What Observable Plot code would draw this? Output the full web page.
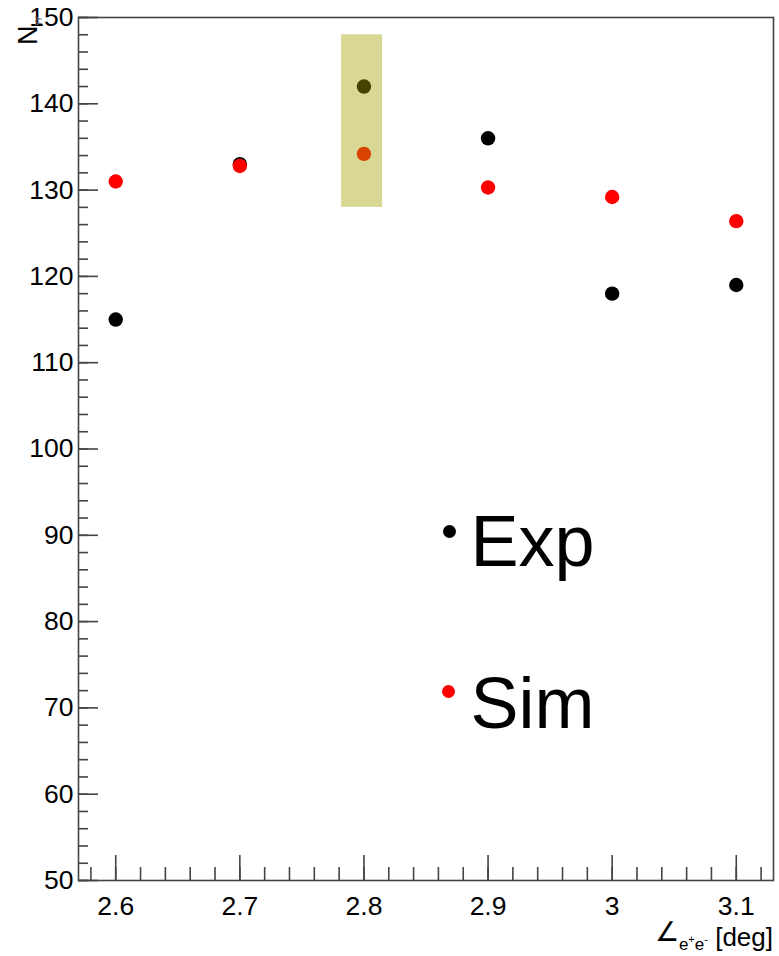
<!DOCTYPE html>
<html>
<head>
<meta charset="utf-8">
<script src="https://cdn.jsdelivr.net/npm/d3@7"></script>
<script src="https://cdn.jsdelivr.net/npm/@observablehq/plot@0.6"></script>
<style>
  html, body { margin: 0; padding: 0; background: #fff; }
  #chart svg { display: block; }
</style>
</head>
<body>
<div id="chart"></div>
<script>
// ---- data ----
const angles = [2.6, 2.7, 2.8, 2.9, 3.0, 3.1];
const expCounts = [115, 133, 142, 136, 118, 119];
const simCounts = [131, 132.8, 134.2, 130.3, 129.2, 126.4];

const xTicks = [2.6, 2.7, 2.8, 2.9, 3.0, 3.1];
const xTickLabels = ["2.6", "2.7", "2.8", "2.9", "3", "3.1"];
const xMinorTicks = d3.range(129, 157).map(i => i / 50);   // every 0.02
const yTicks = [50, 60, 70, 80, 90, 100, 110, 120, 130, 140, 150];
const yMinorTicks = d3.range(50, 151, 2);                   // every 2

const highlight = [{x1: 2.782, x2: 2.815, y1: 128, y2: 148}];

const legendLabels = ["Exp", "Sim"];
const legendColors = ["#000000", "#ff0000"];

const expData = angles.map((a, i) => ({angle: a, n: expCounts[i]}));
const simData = angles.map((a, i) => ({angle: a, n: simCounts[i]}));

const FONT = "'Liberation Sans', Arial, Helvetica, sans-serif";
const LINE = "#444";

const chart = Plot.plot({
  width: 779,
  height: 956,
  marginLeft: 78,
  marginRight: 6,
  marginTop: 17,
  marginBottom: 76,
  x: {domain: [2.57, 3.13]},
  y: {domain: [50, 150]},
  style: {fontFamily: FONT, fontSize: "26px", color: "#000", background: "#fff"},
  marks: [
    // data points
    Plot.dot(expData, {x: "angle", y: "n", r: 7.2, fill: legendColors[0]}),
    Plot.dot(simData, {x: "angle", y: "n", r: 7.2, fill: legendColors[1]}),
    // highlighted box (drawn over the points, translucent)
    Plot.rect(highlight, {x1: "x1", x2: "x2", y1: "y1", y2: "y2", fill: "rgb(162,162,0)", fillOpacity: 0.42}),
    // frame
    Plot.frame({stroke: LINE, strokeWidth: 1.6}),
    // y axis: inward ticks
    Plot.axisY(yMinorTicks, {tickSize: -10, fill: "none", stroke: LINE, strokeWidth: 1.6, label: null}),
    Plot.axisY(yTicks, {tickSize: -20, fill: "none", stroke: LINE, strokeWidth: 1.6, label: null}),
    Plot.axisY(yTicks, {tickSize: 0, tickPadding: 5, fill: "#000", label: null, fontSize: 26.5}),
    // x axis: inward ticks
    Plot.axisX(xMinorTicks, {tickSize: -13, fill: "none", stroke: LINE, strokeWidth: 1.6, label: null}),
    Plot.axisX(xTicks, {tickSize: -25, fill: "none", stroke: LINE, strokeWidth: 1.6, label: null}),
    Plot.axisX(xTicks, {
      tickSize: 0, tickPadding: 16, fill: "#000", label: null, fontSize: 26.5,
      tickFormat: d => xTickLabels[xTicks.findIndex(t => Math.abs(t - d) < 1e-9)]
    }),
    // legend
    Plot.dot([legendLabels[0]], {frameAnchor: "top-left", dx: 371, dy: 514, r: 6.5, fill: legendColors[0]}),
    Plot.dot([legendLabels[1]], {frameAnchor: "top-left", dx: 370, dy: 674, r: 6.5, fill: legendColors[1]}),
    Plot.text([legendLabels[0]], {frameAnchor: "top-left", dx: 392, dy: 548, text: d => d, fontSize: 72, textAnchor: "start", lineAnchor: "bottom", fill: "#000"}),
    Plot.text([legendLabels[1]], {frameAnchor: "top-left", dx: 392, dy: 710, text: d => d, fontSize: 72, textAnchor: "start", lineAnchor: "bottom", fill: "#000"})
  ]
});

document.getElementById("chart").appendChild(chart);

// ---- axis titles (with sub/superscripts) ----
const svg = d3.select(chart);

// y title: N with small subscript, rotated
const yt = svg.append("text")
  .attr("transform", "translate(37,45) rotate(-90)")
  .attr("font-family", FONT)
  .attr("fill", "#000")
  .attr("text-anchor", "start");
yt.append("tspan").attr("font-size", 27).text("N");
yt.append("tspan").attr("font-size", 9).attr("dy", 3).attr("fill", "#777").text("γγ");

// x title: ∠_{e+e-} [deg], right aligned
const xt = svg.append("text")
  .attr("x", 773)
  .attr("y", 946)
  .attr("font-family", FONT)
  .attr("fill", "#000")
  .attr("text-anchor", "end");
xt.append("tspan").attr("font-size", 27).attr("dy", -5).text("∠");
xt.append("tspan").attr("font-size", 17).attr("dy", 9).text("e");
xt.append("tspan").attr("font-size", 11).attr("dy", -7).text("+");
xt.append("tspan").attr("font-size", 17).attr("dy", 7).text("e");
xt.append("tspan").attr("font-size", 11).attr("dy", -7).text("-");
xt.append("tspan").attr("font-size", 26).attr("dy", 3).text(" [deg]");
</script>
</body>
</html>
